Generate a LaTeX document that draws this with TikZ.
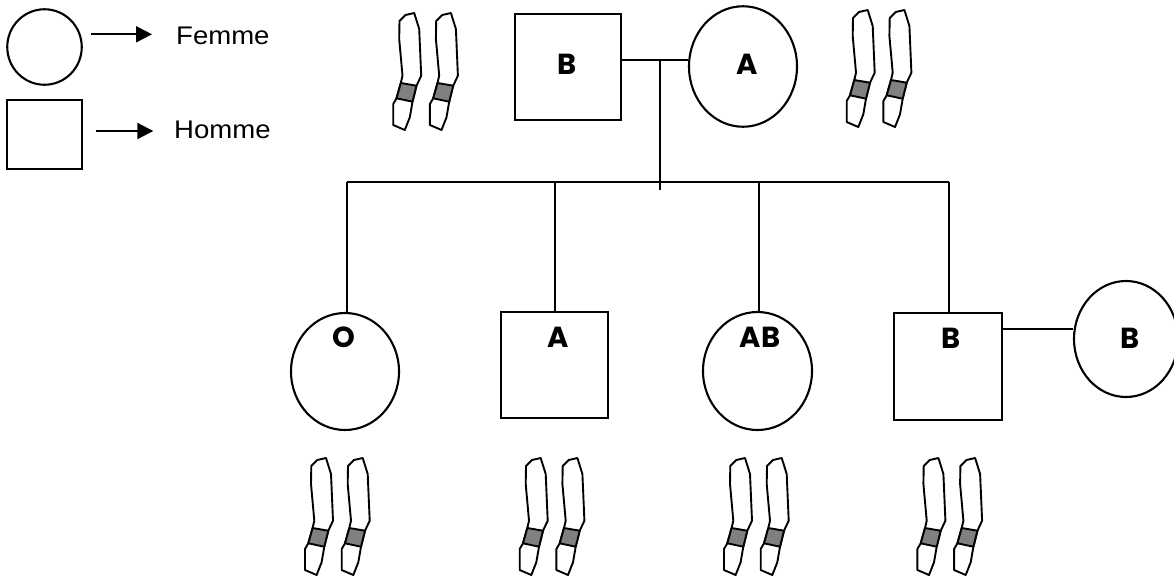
\documentclass[tikz,border=0pt]{standalone}
\usepackage{fontspec}
\setmainfont{Liberation Sans}
\newfontfamily\labfont{Poppins}
\usetikzlibrary{shapes.geometric,arrows.meta}
\definecolor{bandgray}{RGB}{128,128,128}
\tikzset{
  ln/.style={line width=2.1pt},
  sq/.style={draw, rectangle, line width=2.1pt, inner sep=0pt, minimum width=#1, minimum height=#1},
  ov/.style 2 args={draw, ellipse, line width=2.1pt, inner sep=0pt, minimum width=#1, minimum height=#2},
  lab/.style={inner sep=0pt, font=\labfont\bfseries\fontsize{29}{29}\selectfont},
  legtext/.style={inner sep=0pt, anchor=west, font=\fontsize{25.5}{25.5}\selectfont, xscale=1.08},
  arr/.style={line width=2.1pt, -{Triangle[length=16pt,width=16pt]}},
  chromo/.pic={
    \draw[line width=1.9pt, line join=round, fill=white] (7,8) -- (13,2) -- (21.7,0) -- (26.7,16) -- (28.7,62.7) -- (24,72.7) -- (20,88.7) -- (17.3,104.3) -- (12.3,117) -- (0.7,112) -- (0.7,91) -- (4,85.3) -- (8.3,70) -- (10,62.7) -- (6.7,26) -- cycle;
    \filldraw[line width=1.9pt, line join=round, fill=bandgray] (8.3,70) -- (24,72.7) -- (20,88.7) -- (4,85.3) -- cycle;
  },
  chromopair/.pic={
    \pic at (0,0) {chromo};
    \pic at (36.7,0) {chromo};
  }
}
\begin{document}
\begin{tikzpicture}[x=1pt,y=-1pt]
\useasboundingbox (0,0) rectangle (1174,579);

% legend
\node[ov={74.5}{75.5}] (legF) at (44.5,47) {};
\node[sq=75, minimum height=69] (legH) at (44.8,134.5) {};
\coordinate (aF1) at (91,34.3);
\coordinate (aF2) at (152,34.3);
\coordinate (aH1) at (95.7,131);
\coordinate (aH2) at (153.3,131);
\draw[arr] (aF1) -- (aF2);
\draw[arr] (aH1) -- (aH2);
\node[legtext] (tF) at (176,36) {Femme};
\node[legtext] (tH) at (174,130) {Homme};

% parents
\node[sq=106] (father) at (568,67) {};
\node[ov={108}{120.5}] (mother) at (743,66.5) {};
\node[lab] (lfather) at (566.7,64) {B};
\node[lab] (lmother) at (747.5,64) {A};
\coordinate (mid) at (660,60);
\coordinate (midlow) at (660,190);
\draw[ln] (father.east |- mid) -- (mid -| mother.west);
\draw[ln] (mid) -- (midlow);

% children
\node[ov={108}{117}] (c1) at (345,371.5) {};
\node[sq=107, minimum height=106] (c2) at (554.5,365) {};
\node[ov={109}{118}] (c3) at (757.5,371) {};
\node[sq=108, minimum height=107] (c4) at (948,366.5) {};
\node[ov={104}{116}] (sp) at (1126,339) {};
\node[lab] (l1) at (344,337) {O};
\node[lab] (l2) at (558,337) {A};
\node[lab] (l3) at (760,337) {AB};
\node[lab] (l4) at (951.5,338) {B};
\node[lab] (l5) at (1130.5,338) {B};

\coordinate (s1) at (347,182);
\coordinate (s2) at (555,182);
\coordinate (s3) at (759,182);
\coordinate (s4) at (949,182);
\draw[ln] (s1) -- (s4);
\draw[ln] (s1) -- (s1 |- c1.north);
\draw[ln] (s2) -- (s2 |- c2.north);
\draw[ln] (s3) -- (s3 |- c3.north);
\draw[ln] (s4) -- (s4 |- c4.north);
\coordinate (spl) at (1002,329);
\draw[ln] (spl -| c4.east) -- (spl -| sp.west);

% chromosomes
\pic at (392.5,13) {chromopair};
\pic at (846,10) {chromopair};
\pic at (304.3,458) {chromopair};
\pic at (519,458) {chromopair};
\pic at (723.3,458) {chromopair};
\pic at (916.7,458) {chromopair};
\end{tikzpicture}
\end{document}
